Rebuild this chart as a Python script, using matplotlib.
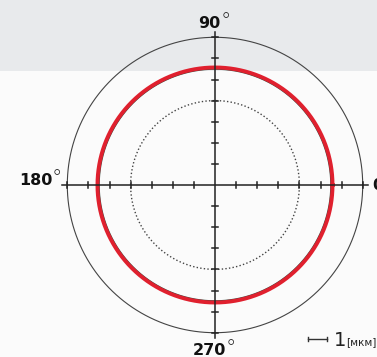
import matplotlib
matplotlib.use("Agg")
import matplotlib.pyplot as plt
import numpy as np

# polar roundness plot, 1 unit = 1 micrometre
axis_ticks = [1, 2, 3, 4, 5, 6, 7]
outer_radius = 7.0
reference_radius = 4.0
profile_radius = 5.57
angle_labels = ["0", "90", "180", "270"]

W, H = 377, 357
px = 21.1           # pixels per unit
cx, cy = 215, 185   # centre in pixels (from top-left)

fig = plt.figure(figsize=(W / 100, H / 100), dpi=100)
ax = fig.add_axes([0, 0, 1, 1])
ax.set_xlim(-cx / px, (W - cx) / px)
ax.set_ylim(-(H - cy) / px, cy / px)
ax.set_aspect("auto")
ax.axis("off")
fig.patch.set_facecolor("#fbfbfb")

# grey band behind the top
ax.axhspan((cy - 71) / px, cy / px, color="#e8eaec", zorder=0, lw=0)

t = np.linspace(0, 2 * np.pi, 721)
ax.plot(outer_radius * np.cos(t), outer_radius * np.sin(t),
        color="#444444", lw=0.8, zorder=2)
ax.plot(reference_radius * np.cos(t), reference_radius * np.sin(t),
        color="#444444", lw=1.0, ls=(0, (1, 1.6)), zorder=2)
ax.plot((profile_radius - 0.08) * np.cos(t), (profile_radius - 0.08) * np.sin(t),
        color="#3a4a40", lw=0.9, zorder=3)
ax.plot(profile_radius * np.cos(t), profile_radius * np.sin(t),
        color="#e0202e", lw=2.8, zorder=4)

# axes cross
ax.plot([-7.25, 7.25], [0, 0], color="#222222", lw=1.1, zorder=5)
ax.plot([0, 0], [-7.25, 7.25], color="#222222", lw=1.1, zorder=5)
tl = 0.14
for k in axis_ticks:
    for s in (-1, 1):
        ax.plot([s * k, s * k], [-tl, tl], color="#222222", lw=1.1, zorder=5)
        ax.plot([-tl, tl], [s * k, s * k], color="#222222", lw=1.1, zorder=5)

font = dict(family="Liberation Sans Narrow", fontweight="bold",
            fontsize=11.5, color="#111111")


def angle_label(x, y, s, ha, va, degree=True):
    t = ax.text(x, y, s, ha=ha, va=va, **font)
    if degree:
        ax.annotate("°", xy=(0.98, 1.25), xycoords=t, ha="left", va="top",
                    fontsize=15, color="#222222", family="DejaVu Sans",
                    fontweight="light")
    return t


angle_label(7.45, 0, angle_labels[0], "left", "center", degree=False)
angle_label(-0.25, 7.3, angle_labels[1], "center", "bottom")
angle_label(-7.7, 0.2, angle_labels[2], "right", "center")
angle_label(-0.25, -7.5, angle_labels[3], "center", "top")

# scale bar: one unit
sx, sy = 4.4, -7.3
ax.plot([sx, sx + 0.9], [sy, sy], color="#333333", lw=1.0)
ax.plot([sx, sx], [sy - 0.1, sy + 0.1], color="#333333", lw=1.0)
ax.plot([sx + 0.9, sx + 0.9], [sy - 0.1, sy + 0.1], color="#333333", lw=1.0)
ax.text(sx + 1.25, sy - 0.05, "1", ha="left", va="center",
        family="Liberation Sans Narrow", fontsize=14, color="#222222")
ax.text(sx + 1.82, sy - 0.15, "[мкм]", ha="left", va="center",
        family="Liberation Sans Narrow", fontsize=7.5, color="#222222")

fig.savefig("out.png", dpi=100, facecolor=fig.get_facecolor())
